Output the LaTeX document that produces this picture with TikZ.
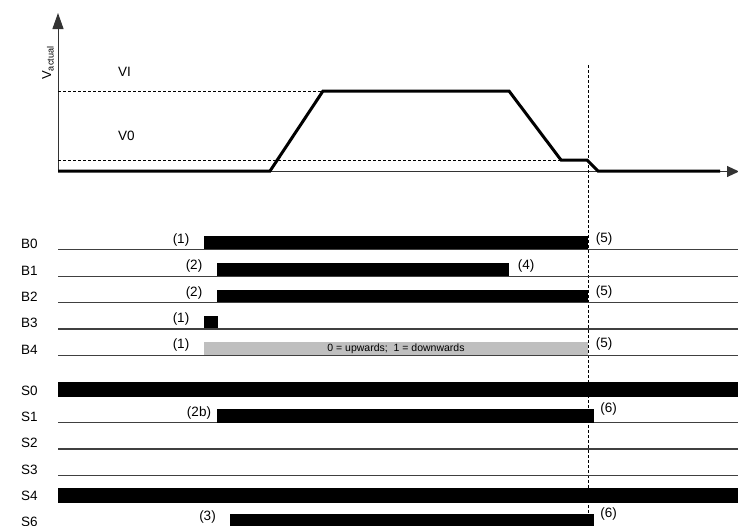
\documentclass[tikz,border=0pt]{standalone}
\usepackage{fontspec}
\setmainfont{Liberation Sans}
\usetikzlibrary{arrows.meta}
\begin{document}
\begin{tikzpicture}[x=1pt,y=-1pt,
  lbl/.style={font=\fontsize{13.5}{15}\selectfont, inner sep=0pt},
  axis/.style={draw=black!80, line width=1pt},
  rowline/.style={draw=black!75, line width=1.2pt},
  bar/.style={fill=black},
  graybar/.style={fill=black!25},
  guide/.style={draw=black, line width=0.8pt, dash pattern=on 3pt off 2pt},
  curve/.style={draw=black, line width=3pt, line join=miter},
  tip/.style={-{Triangle[length=16pt,width=11pt]}}]
\useasboundingbox (0,0) rectangle (738,525);

% axes
\coordinate (o) at (58,171.5);
\coordinate (ytop) at (58,13);
\coordinate (xend) at (739,171.5);
\draw[axis,tip] (o) -- (ytop);
\draw[axis,-{Triangle[length=12pt,width=11pt]}] (o) -- (xend);

% threshold lines
\coordinate (vi0) at (58,91);
\coordinate (vi1) at (323,91);
\coordinate (v00) at (58,160);
\coordinate (v01) at (561,160);
\draw[guide] (vi0) -- (vi1);
\draw[guide] (v00) -- (v01);

% vertical marker
\coordinate (m0) at (588,65);
\coordinate (m1) at (588,525);
\draw[guide] (m0) -- (m1);

% velocity curve
\draw[curve] (58,171) -- (270,171) -- (323,91) -- (509,91) -- (561,160) -- (587,160) -- (598,171) -- (720,171);

% axis labels
\node[font=\fontsize{13}{15}\selectfont, inner sep=0pt, rotate=90] (vact) at (48,63) {V\textsubscript{actual}};
\node[lbl, anchor=west] (vi) at (118,72) {VI};
\node[lbl, anchor=west] (v0) at (118,136) {V0};

% ---- B rows ----
\foreach \n/\y in {B0/249.5, B1/276.5, B2/302.5, B3/329, B4/355.5}{
  \node[lbl, anchor=west] (l\n) at (21,\y-6) {\n};
}
% bars
\fill[bar] (204,236) rectangle (588,249.5);
\fill[bar] (217,263) rectangle (509,276.5);
\fill[bar] (217,289.5) rectangle (588,302.5);
\fill[bar] (204,316) rectangle (218,329);
\fill[graybar] (204,342) rectangle (588,355.5);
\node[font=\fontsize{10.5}{12}\selectfont, inner sep=0pt] (dir) at (396,349) {0 = upwards;\ \ 1 = downwards};
\foreach \y in {249.5, 276.5, 302.5, 329, 355.5}{
  \draw[rowline] (58,\y) -- (738,\y);
}
% annotations
\node[lbl] (a1) at (181,240) {(1)};
\node[lbl] (a5) at (604,239) {(5)};
\node[lbl] (b2) at (194,266.5) {(2)};
\node[lbl] (b4) at (526,266) {(4)};
\node[lbl] (c2) at (194,293) {(2)};
\node[lbl] (c5) at (604,292) {(5)};
\node[lbl] (d1) at (181,318.5) {(1)};
\node[lbl] (e1) at (181,345) {(1)};
\node[lbl] (e5) at (604,343.5) {(5)};

% ---- S rows ----
\foreach \n/\y in {S0/396.5, S1/422.5, S2/449, S3/475.5, S4/502, S6/528}{
  \node[lbl, anchor=west] (l\n) at (21,\y-6) {\n};
}
\foreach \y in {422.5, 449, 475.5}{
  \draw[rowline] (58,\y) -- (738,\y);
}
\fill[bar] (58,382) rectangle (738,397);
\fill[bar] (217,408.5) rectangle (594,422.5);
\fill[bar] (58,487.5) rectangle (738,502.5);
\fill[bar] (230,514) rectangle (594,530);
\node[lbl] (f2) at (199,413) {(2b)};
\node[lbl] (f6) at (608.5,409) {(6)};
\node[lbl] (g3) at (207.5,516.5) {(3)};
\node[lbl] (g6) at (608.5,514) {(6)};
\end{tikzpicture}
\end{document}
